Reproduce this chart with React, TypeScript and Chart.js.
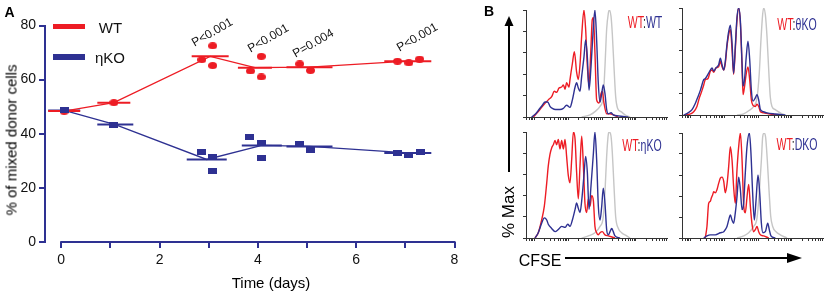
import React, { useEffect, useRef } from "react";
import { Chart, registerables } from "chart.js";

Chart.register(...registerables);

const RED = "#ed1c24";
const NAVY = "#2e3192";
const GRAY = "#c6c6c6";
const INK = "#111111";
const FONT = "'Liberation Sans', Arial, Helvetica, sans-serif";

// ---------- Panel A data ----------
const xTickDays = [0, 1, 2, 3, 4, 5, 6, 7, 8];
const yTickValues = [0, 20, 40, 60, 80];

const wtMeanDays = [0.06, 1.07, 3.03, 3.94, 5.05, 7.05];
const wtMean = [48.4, 51.5, 68.6, 64.4, 64.6, 66.8];
const koMeanDays = [0.06, 1.1, 2.96, 4.08, 5.05, 7.05];
const koMean = [48.6, 43.4, 30.5, 35.7, 35.3, 32.9];

const wtRepDays = [0.06, 1.07, 2.86, 3.08, 3.08, 3.85, 4.07, 4.07, 4.85, 5.07, 6.84, 7.07, 7.29];
const wtRepValues = [48.3, 51.5, 67.4, 72.5, 65.2, 63.2, 68.6, 61.0, 65.8, 63.4, 66.8, 66.2, 67.6];
const koRepDays = [0.06, 1.07, 2.85, 3.08, 3.08, 3.84, 4.07, 4.07, 4.85, 5.07, 6.84, 7.07, 7.3];
const koRepValues = [48.6, 43.4, 33.2, 31.4, 26.2, 38.8, 36.5, 31.1, 36.1, 34.1, 32.8, 32.2, 33.4];

const pLabels = ["P<0.001", "P<0.001", "P=0.004", "P<0.001"];

// ---------- Panel B data (CFSE channel 0-100, % of max) ----------
const wtwtRedX = [5.2, 8.7, 12.3, 15.8, 18.2, 20.1, 21.7, 23.4, 25.3, 26.5, 27.7, 28.8, 30.5, 31.2, 32.9, 34.3, 35.9, 37.1, 38.3, 39.5, 41.1, 42.3, 43.5, 44.7, 45.9, 47.0, 47.8, 48.9, 50.1, 51.8, 53.2, 54.1, 55.3, 57.2, 59.6, 61.9, 65.5];
const wtwtRedY = [0, 5, 11, 16, 19, 24, 23, 27, 28, 30, 26, 32, 28, 35, 50, 61, 42, 35, 49, 76, 100, 82, 48, 29, 60, 91, 93, 60, 16, 13, 22, 24, 13, 3, 3, 2, 0];
const wtwtBlueX = [4.0, 6.9, 9.2, 11.6, 13.5, 15.4, 17.0, 18.7, 21.0, 24.1, 26.5, 28.8, 31.2, 32.9, 34.8, 35.9, 37.1, 38.3, 39.5, 41.1, 42.3, 43.5, 44.7, 46.1, 47.5, 48.9, 50.1, 51.3, 52.5, 53.7, 54.8, 56.0, 57.2, 58.4, 60.3, 61.9, 65.5, 72.6];
const wtwtBlueY = [0, 3, 7, 11, 14, 14, 10, 8, 7, 7, 8, 11, 9, 16, 28, 32, 27, 24, 38, 56, 72, 56, 25, 47, 78, 100, 72, 31, 14, 22, 30, 22, 7, 3, 4, 2, 1, 0];
const wtwtGrayX = [39.5, 45.4, 48.9, 52.5, 54.8, 56.0, 57.2, 58.4, 59.1, 60.3, 61.2, 62.4, 63.6, 65.0, 67.4, 70.2, 73.8];
const wtwtGrayY = [0, 2, 5, 10, 19, 47, 82, 97, 100, 94, 78, 47, 19, 8, 5, 2, 0];

const thetaRedX = [2.4, 5.9, 8.3, 10.6, 12.3, 14.2, 15.4, 16.5, 18.4, 20.1, 21.3, 22.5, 24.1, 26.0, 27.2, 28.4, 29.6, 30.7, 31.9, 33.1, 34.3, 35.5, 36.6, 37.8, 39.0, 40.2, 41.4, 42.6, 43.3, 44.4, 45.6, 46.8, 48.0, 49.2, 50.4, 52.0, 53.2, 54.4, 55.6, 57.9, 61.5, 68.6];
const thetaRedY = [0, 1, 3, 8, 16, 23, 28, 33, 34, 41, 42, 40, 44, 45, 50, 45, 42, 48, 64, 75, 80, 61, 38, 61, 89, 100, 86, 45, 19, 27, 39, 45, 33, 14, 9, 8, 10, 8, 3, 2, 1, 0];
const thetaBlueX = [1.2, 4.3, 7.1, 9.5, 11.3, 13.0, 15.4, 16.5, 18.4, 20.1, 21.3, 22.5, 24.1, 26.0, 27.2, 28.4, 29.6, 30.7, 31.9, 33.1, 34.3, 35.5, 36.6, 37.8, 39.0, 40.2, 41.4, 42.6, 43.3, 44.4, 45.6, 46.8, 48.0, 49.2, 50.4, 52.0, 53.2, 54.4, 55.6, 57.9, 60.3, 66.2, 73.3];
const thetaBlueY = [0, 2, 5, 11, 17, 23, 33, 34, 38, 42, 44, 41, 44, 47, 53, 47, 42, 50, 66, 78, 84, 67, 39, 64, 91, 100, 88, 48, 27, 34, 55, 69, 52, 23, 13, 16, 19, 14, 5, 3, 2, 1, 0];
const thetaGrayX = [39.0, 43.7, 47.3, 50.8, 53.2, 54.8, 56.0, 57.2, 57.9, 59.1, 60.3, 61.5, 62.6, 63.8, 66.2, 69.7, 73.3];
const thetaGrayY = [0, 1, 4, 8, 16, 39, 70, 94, 100, 94, 73, 42, 17, 8, 5, 2, 0];

const etaRedX = [6.4, 8.7, 11.1, 13.0, 14.7, 15.8, 17.0, 18.2, 19.4, 20.6, 21.7, 22.9, 24.1, 25.3, 26.5, 27.7, 28.8, 30.0, 31.2, 32.4, 33.6, 34.8, 35.9, 37.1, 38.3, 39.5, 40.7, 41.8, 43.0, 44.2, 45.4, 46.6, 47.8, 48.9, 50.1, 51.3, 52.5, 54.1, 56.0, 58.4, 63.1];
const etaRedY = [0, 5, 17, 30, 52, 68, 79, 85, 88, 92, 88, 93, 84, 92, 84, 93, 77, 59, 52, 74, 100, 93, 62, 37, 68, 96, 68, 33, 24, 37, 30, 40, 35, 11, 5, 3, 5, 6, 3, 2, 0];
const etaBlueX = [6.4, 8.7, 11.1, 13.0, 14.7, 15.8, 18.2, 20.6, 22.9, 25.3, 27.7, 29.6, 31.2, 32.9, 34.8, 35.9, 37.1, 38.3, 39.5, 41.1, 42.3, 43.5, 44.7, 46.1, 47.8, 48.9, 50.1, 51.3, 52.5, 53.7, 54.8, 56.0, 57.2, 58.4, 59.6, 60.8, 61.9, 63.1, 66.7];
const etaBlueY = [0, 5, 14, 19, 17, 13, 9, 6, 8, 11, 10, 13, 11, 17, 27, 33, 28, 24, 35, 59, 77, 62, 27, 49, 80, 100, 74, 30, 17, 30, 47, 33, 8, 3, 6, 9, 6, 2, 0];
const etaGrayX = [39.5, 44.2, 48.9, 52.5, 54.8, 56.0, 57.2, 58.4, 59.1, 60.3, 61.2, 62.4, 63.6, 65.5, 67.8, 71.4, 73.8];
const etaGrayY = [0, 2, 5, 11, 20, 43, 77, 98, 100, 96, 81, 49, 20, 9, 5, 2, 0];

const dkoRedX = [16.5, 17.7, 18.9, 20.1, 20.8, 21.7, 22.5, 23.6, 24.8, 26.0, 27.2, 28.4, 29.6, 30.7, 31.9, 33.1, 34.3, 35.5, 36.6, 37.8, 39.0, 40.2, 41.4, 42.6, 43.7, 44.9, 46.1, 47.3, 48.5, 49.6, 50.8, 52.0, 53.2, 54.4, 55.6, 57.9, 61.5];
const dkoRedY = [0, 11, 33, 35, 38, 41, 44, 43, 46, 52, 57, 58, 54, 43, 51, 68, 87, 74, 49, 33, 65, 87, 100, 74, 33, 24, 39, 51, 30, 14, 6, 8, 11, 6, 3, 2, 0];
const dkoBlueX = [15.4, 17.7, 20.1, 23.6, 27.2, 29.6, 30.7, 31.9, 33.1, 34.3, 35.5, 36.6, 37.8, 39.0, 40.2, 41.4, 42.6, 43.7, 44.9, 46.1, 47.8, 48.9, 50.1, 51.3, 52.5, 53.9, 55.1, 56.3, 57.4, 59.1, 60.8, 61.9, 63.1, 66.2];
const dkoBlueY = [0, 2, 3, 3, 5, 6, 8, 11, 17, 22, 17, 14, 24, 39, 58, 46, 27, 33, 62, 87, 100, 81, 43, 17, 36, 60, 43, 14, 5, 6, 14, 8, 2, 0];
const dkoGrayX = [39.0, 43.7, 47.3, 50.8, 53.2, 54.8, 56.3, 57.2, 58.2, 59.3, 60.5, 61.7, 62.9, 64.3, 66.7, 69.7, 74.5];
const dkoGrayY = [0, 2, 5, 11, 19, 43, 74, 96, 100, 96, 74, 46, 21, 11, 6, 3, 0];

const cfseDecadeStarts = [-18, 6, 30, 54, 78];
const cfseDecadeWidth = 24;
const pctMaxTicks = [0, 20, 40, 60, 80, 100];

const zip = (xs: number[], ys: number[]) => xs.map((x, i) => ({ x, y: ys[i] }));

function makeMarker(shape: "ellipse" | "rect", color: string, w: number, h: number) {
  const c = document.createElement("canvas");
  c.width = w;
  c.height = h;
  const ctx = c.getContext("2d")!;
  ctx.fillStyle = color;
  if (shape === "ellipse") {
    ctx.beginPath();
    ctx.ellipse(w / 2, h / 2, w / 2, h / 2, 0, 0, Math.PI * 2);
    ctx.fill();
  } else {
    ctx.fillRect(0, 0, w, h);
  }
  return c;
}

function Txt(props: {
  x: number; y: number; size: number; children: React.ReactNode;
  rotate?: number; color?: string; weight?: number; scaleX?: number;
}) {
  const { x, y, size, children, rotate = 0, color = INK, weight = 400, scaleX = 1 } = props;
  return (
    <div
      style={{
        position: "absolute", left: x, top: y,
        transform: `translate(-50%, -50%) rotate(${rotate}deg) scaleX(${scaleX})`,
        fontSize: size, lineHeight: 1, whiteSpace: "nowrap", color,
        fontWeight: weight, fontFamily: FONT,
      }}
    >
      {children}
    </div>
  );
}

function TimeCourse() {
  const ref = useRef<HTMLCanvasElement>(null);
  useEffect(() => {
    if (!ref.current) return;
    const redDot = makeMarker("ellipse", RED, 9, 7);
    const navySq = makeMarker("rect", NAVY, 9, 6);
    const offsetXAxis = {
      id: "offsetXAxis",
      afterDraw(chart: any) {
        const { ctx } = chart;
        const x = chart.scales.x;
        const y = chart.scales.y;
        const yPix = Math.round(y.getPixelForValue(0));
        ctx.save();
        ctx.strokeStyle = NAVY;
        ctx.lineWidth = 2;
        ctx.beginPath();
        ctx.moveTo(x.getPixelForValue(xTickDays[0]) - 1, yPix);
        ctx.lineTo(x.getPixelForValue(xTickDays[xTickDays.length - 1]) + 1, yPix);
        ctx.stroke();
        ctx.restore();
      },
    };
    const chart = new Chart(ref.current, {
      type: "scatter",
      data: {
        datasets: [
          { data: zip(koRepDays, koRepValues), pointStyle: navySq as any, pointRadius: 4 },
          { data: zip(wtRepDays, wtRepValues), pointStyle: redDot as any, pointRadius: 4 },
          {
            data: zip(wtMeanDays, wtMean), showLine: true, borderColor: RED, borderWidth: 1.3,
            pointStyle: "line", pointRadius: [16, 16.5, 18.5, 17, 23, 23.5],
            pointBorderColor: RED, pointBorderWidth: 2, pointBackgroundColor: RED,
          },
          {
            data: zip(koMeanDays, koMean), showLine: true, borderColor: NAVY, borderWidth: 1.3,
            pointStyle: "line", pointRadius: [16, 18, 20, 20, 23, 23.5],
            pointBorderColor: NAVY, pointBorderWidth: 2, pointBackgroundColor: NAVY,
          },
        ],
      },
      options: {
        animation: false,
        responsive: false,
        events: [],
        layout: { padding: { top: 20, right: 10, left: 0, bottom: 0 } },
        plugins: { legend: { display: false }, tooltip: { enabled: false } },
        scales: {
          x: {
            type: "linear", min: -0.33, max: 8,
            afterBuildTicks: (s: any) => { s.ticks = xTickDays.map((value) => ({ value })); },
            afterFit: (s: any) => { s.height = 51; },
            ticks: {
              autoSkip: false, maxRotation: 0, padding: 4, color: INK,
              font: { family: FONT, size: 14 },
              callback: (v: any) => (Number(v) % 2 === 0 ? String(v) : ""),
            },
            grid: { drawOnChartArea: false, drawTicks: true, tickLength: 6, color: NAVY, lineWidth: 2 },
            border: { display: false },
          },
          y: {
            type: "linear", min: 0, max: 80,
            afterBuildTicks: (s: any) => { s.ticks = yTickValues.map((value) => ({ value })); },
            afterFit: (s: any) => { s.width = 45; },
            ticks: { padding: 3, color: INK, font: { family: FONT, size: 14 } },
            grid: { drawOnChartArea: false, drawTicks: true, tickLength: 6, color: NAVY, lineWidth: 2 },
            border: { display: true, color: NAVY, width: 2 },
          },
        },
      },
      plugins: [offsetXAxis],
    } as any);
    return () => chart.destroy();
  }, []);
  return (
    <canvas ref={ref} width={480} height={293}
      style={{ position: "absolute", left: 0, top: 0, width: 480, height: 293 }} />
  );
}

type Series = { redX: number[]; redY: number[]; blueX: number[]; blueY: number[]; grayX: number[]; grayY: number[] };

function Histogram(props: { left: number; top: number; width: number; height: number; s: Series }) {
  const { left, top, width, height, s } = props;
  const ref = useRef<HTMLCanvasElement>(null);
  const PL = 6, PT = 6, PR = 6, PB = 2, AX = 4;
  const cw = width + PL + AX + PR;
  const ch = height + PT + AX + PB;
  useEffect(() => {
    if (!ref.current) return;
    const cfseTicks: number[] = [];
    cfseDecadeStarts.forEach((d) => {
      for (let k = 1; k <= 9; k++) {
        const v = d + Math.log10(k) * cfseDecadeWidth;
        if (v >= 0 && v <= 100) cfseTicks.push(v);
      }
    });
    const line = (data: any, color: string) => ({
      data, borderColor: color, borderWidth: 1.4, pointRadius: 0,
      cubicInterpolationMode: "monotone", fill: false,
    });
    const chart = new Chart(ref.current, {
      type: "line",
      data: {
        datasets: [
          line(zip(s.blueX, s.blueY), NAVY),
          line(zip(s.redX, s.redY), RED),
          line(zip(s.grayX, s.grayY), GRAY),
        ],
      },
      options: {
        animation: false,
        responsive: false,
        events: [],
        layout: { padding: { left: PL, top: PT, right: PR, bottom: PB } },
        plugins: { legend: { display: false }, tooltip: { enabled: false } },
        scales: {
          x: {
            type: "linear", min: 0, max: 100,
            afterBuildTicks: (sc: any) => { sc.ticks = cfseTicks.map((value) => ({ value })); },
            afterFit: (sc: any) => { sc.height = AX; },
            ticks: { display: false },
            grid: { drawOnChartArea: false, drawTicks: true, tickLength: 3, color: "#333", lineWidth: 1 },
            border: { display: true, color: "#333", width: 1 },
          },
          y: {
            type: "linear", min: 0, max: 100,
            afterBuildTicks: (sc: any) => { sc.ticks = pctMaxTicks.map((value) => ({ value })); },
            afterFit: (sc: any) => { sc.width = AX; },
            ticks: { display: false },
            grid: { drawOnChartArea: false, drawTicks: true, tickLength: 3, color: "#333", lineWidth: 1 },
            border: { display: true, color: "#333", width: 1 },
          },
        },
      },
    } as any);
    return () => chart.destroy();
  }, []);
  return (
    <canvas ref={ref} width={cw} height={ch}
      style={{ position: "absolute", left: left - PL - AX, top: top - PT, width: cw, height: ch }} />
  );
}

function Pair(props: { x: number; y: number; ko: string }) {
  return (
    <Txt x={props.x} y={props.y} size={16} scaleX={0.66}>
      <span style={{ color: RED }}>WT</span>
      <span style={{ color: "#222" }}>:</span>
      <span style={{ color: NAVY }}>{props.ko}</span>
    </Txt>
  );
}

export default function App() {
  return (
    <div style={{ position: "fixed", left: 0, top: 0, width: 827, height: 293, background: "#fff", overflow: "hidden" }}>
      <TimeCourse />
      {/* panel A annotations */}
      <Txt x={9.5} y={12} size={14} weight={700} color="#000">A</Txt>
      <div style={{ position: "absolute", left: 53, top: 23.5, width: 32, height: 5, background: RED }} />
      <div style={{ position: "absolute", left: 53, top: 54, width: 32, height: 6, background: NAVY }} />
      <Txt x={110.5} y={27} size={15}>WT</Txt>
      <Txt x={110} y={57} size={15}>ηKO</Txt>
      <Txt x={211.5} y={31.5} size={12} rotate={-30}>{pLabels[0]}</Txt>
      <Txt x={267.5} y={37.5} size={12} rotate={-30}>{pLabels[1]}</Txt>
      <Txt x={313} y={43} size={12} rotate={-30}>{pLabels[2]}</Txt>
      <Txt x={416.5} y={37} size={12} rotate={-30}>{pLabels[3]}</Txt>
      <Txt x={10.5} y={139.5} size={15} rotate={-90} color="#000">% of mixed donor cells</Txt>
      <Txt x={271} y={282} size={15} color="#000">Time (days)</Txt>

      {/* panel B */}
      <Txt x={489} y={11} size={14} weight={700} color="#000">B</Txt>
      <Histogram left={526} top={10} width={141} height={107}
        s={{ redX: wtwtRedX, redY: wtwtRedY, blueX: wtwtBlueX, blueY: wtwtBlueY, grayX: wtwtGrayX, grayY: wtwtGrayY }} />
      <Histogram left={682} top={8} width={141} height={107}
        s={{ redX: thetaRedX, redY: thetaRedY, blueX: thetaBlueX, blueY: thetaBlueY, grayX: thetaGrayX, grayY: thetaGrayY }} />
      <Histogram left={526} top={132} width={141} height={106}
        s={{ redX: etaRedX, redY: etaRedY, blueX: etaBlueX, blueY: etaBlueY, grayX: etaGrayX, grayY: etaGrayY }} />
      <Histogram left={682} top={133} width={141} height={105}
        s={{ redX: dkoRedX, redY: dkoRedY, blueX: dkoBlueX, blueY: dkoBlueY, grayX: dkoGrayX, grayY: dkoGrayY }} />
      <Pair x={644.5} y={23} ko="WT" />
      <Pair x={797} y={24.5} ko="θKO" />
      <Pair x={641.5} y={145.5} ko="ηKO" />
      <Pair x={796.5} y={145} ko="DKO" />

      <svg width={827} height={293} style={{ position: "absolute", left: 0, top: 0, pointerEvents: "none" }}>
        <line x1={509} y1={24} x2={509} y2={172} stroke="#000" strokeWidth={2} />
        <polygon points="509,16 504.5,26 513.5,26" fill="#000" />
        <line x1={565} y1={258} x2={790} y2={258} stroke="#000" strokeWidth={2} />
        <polygon points="802,258 787,253 787,263" fill="#000" />
      </svg>
      <Txt x={508} y={212} size={17} rotate={-90} color="#000">% Max</Txt>
      <Txt x={540} y={261} size={16} color="#000">CFSE</Txt>
    </div>
  );
}
